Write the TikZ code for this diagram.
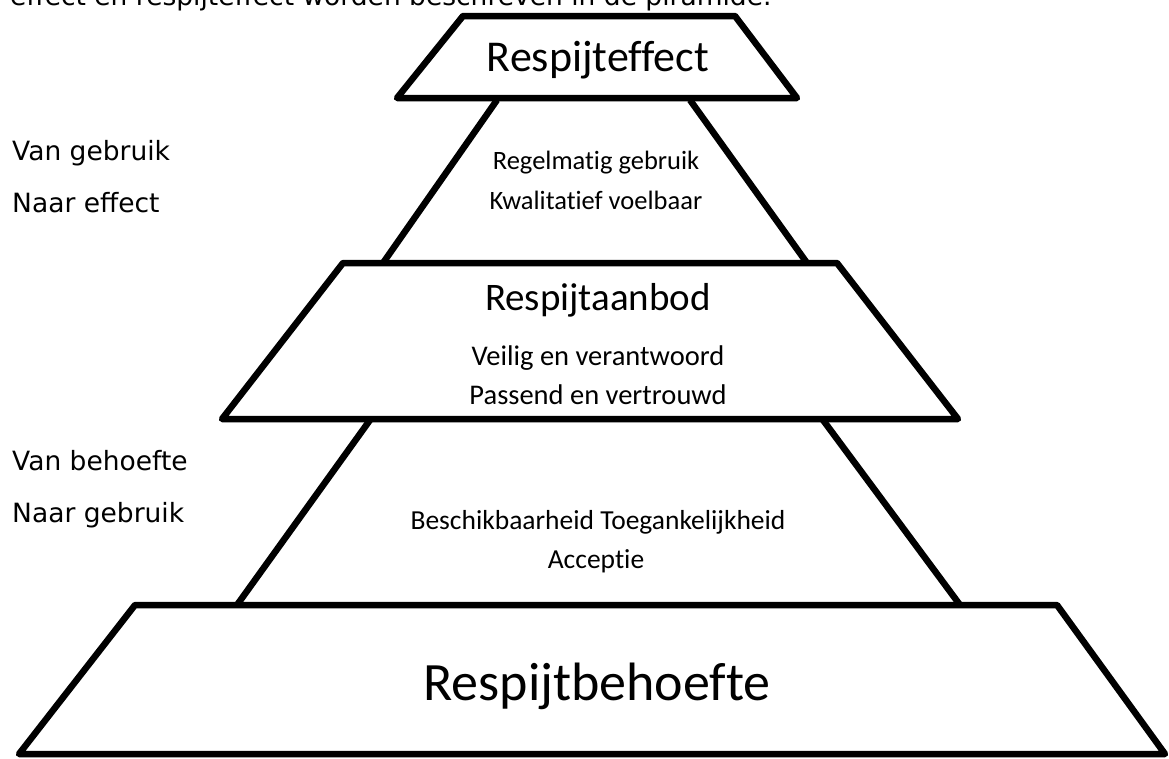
\documentclass[tikz,border=0pt]{standalone}
\usepackage{fontspec}
\setmainfont{Carlito}[Ligatures=NoCommon]
\newfontfamily\verdana{DejaVu Sans}
\usetikzlibrary{shadows}

\begin{document}
\begin{tikzpicture}[
    x=1pt, y=-1pt,
    layer/.style={draw, line width=6.5pt, line join=round, fill=white,
                  drop shadow={shadow xshift=1.5pt, shadow yshift=-3pt, opacity=0.18}},
    side/.style={line width=6.5pt},
    title/.style={anchor=base},
    sub/.style={anchor=base},
    lbl/.style={font=\verdana\fontsize{26.5}{30}\selectfont, anchor=base west, inner sep=0pt},
]
\useasboundingbox (0,0) rectangle (1169,758);
% ----- the cut-off line of text above the pyramid
\begin{scope}
  \clip (0,0) rectangle (1169,758);
  \node[lbl] (intro) at (10,5) {effect en respijteffect worden beschreven in de piramide.};
\end{scope}
% ----- the sides between the layers
\draw[side] (497,100) -- (383,263);
\draw[side] (690,100) -- (807,263);
\draw[side] (370,420) -- (237,605);
\draw[side] (823,420) -- (960,605);
% ----- the three layers, bottom to top
\filldraw[layer] (135,605) -- (1057,605) -- (1165,754) -- (19,754) -- cycle;
\filldraw[layer] (343,263) -- (837,263) -- (958,419) -- (222,419) -- cycle;
\filldraw[layer] (463,16) -- (735,16) -- (797,98) -- (397,98) -- cycle;
% ----- texts in the layers
\node[title, font=\fontsize{44}{48}\selectfont] (effect) at (598,71) {Respijteffect};
\node[sub, font=\fontsize{26.5}{30}\selectfont] (regel) at (596,169) {Regelmatig gebruik};
\node[sub, font=\fontsize{26.5}{30}\selectfont] (kwal) at (596,209) {Kwalitatief voelbaar};
\node[title, font=\fontsize{39}{43}\selectfont] (aanbod) at (598,310) {Respijtaanbod};
\node[sub, font=\fontsize{28.5}{32}\selectfont] (veilig) at (598,365) {Veilig en verantwoord};
\node[sub, font=\fontsize{28.5}{32}\selectfont] (passend) at (598,404) {Passend en vertrouwd};
\node[sub, font=\fontsize{27.5}{31}\selectfont] (beschik) at (598,529) {Beschikbaarheid Toegankelijkheid};
\node[sub, font=\fontsize{27.5}{31}\selectfont] (accept) at (596,568) {Acceptie};
\node[title, font=\fontsize{54}{58}\selectfont] (behoefte) at (597,700) {Respijtbehoefte};
% ----- the steps on the left
\node[lbl] (vangebruik) at (12,160) {Van gebruik};
\node[lbl] (naareffect) at (12,212) {Naar effect};
\node[lbl] (vanbehoefte) at (12,470) {Van behoefte};
\node[lbl] (naargebruik) at (12,522) {Naar gebruik};
\end{tikzpicture}
\end{document}
